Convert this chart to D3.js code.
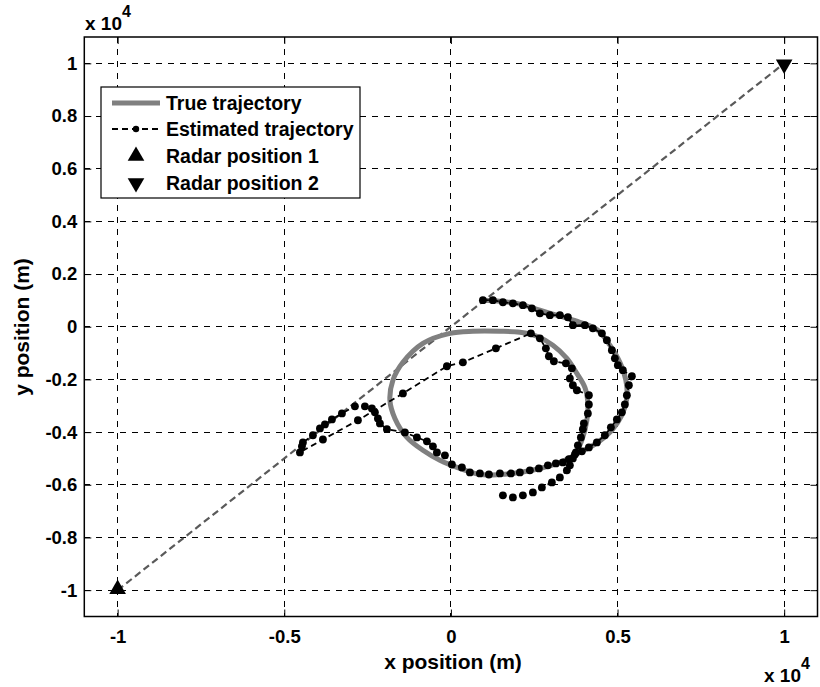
<!DOCTYPE html>
<html>
<head>
<meta charset="utf-8">
<script src="https://cdn.jsdelivr.net/npm/d3@7"></script>
<style>
  html, body { margin: 0; padding: 0; background: #fff; }
  svg { display: block; }
  text { font-family: "Liberation Sans", Arial, Helvetica, sans-serif; font-weight: bold; fill: #000; }
</style>
</head>
<body>
<svg id="chart" width="820" height="687"></svg>
<script>
// ---- data (metres) ----
const radar1 = [-10000, -10000];
const radar2 = [10000, 10000];

const xTicks = [-10000, -5000, 0, 5000, 10000];
const xTickLabels = ["-1", "-0.5", "0", "0.5", "1"];
const yTicks = [-10000, -8000, -6000, -4000, -2000, 0, 2000, 4000, 6000, 8000, 10000];
const yTickLabels = ["-1", "-0.8", "-0.6", "-0.4", "-0.2", "0", "0.2", "0.4", "0.6", "0.8", "1"];

// true target path (spiralling turn)
const trueX = [990, 1470, 2070, 2670, 3270, 3870, 4410, 4770, 5070, 5250, 5280, 5130, 4830, 4410, 3870, 3270,
  2670, 2070, 1470, 870, 270, -330, -840, -1320, -1680, -1830, -1740, -1440, -840, -30, 660, 1470, 2070, 2580,
  3060, 3480, 3780, 4020, 4110, 4080, 3930, 3720];
const trueY = [1010, 970, 860, 630, 400, 170, -130, -700, -1350, -2030, -2720, -3360, -3930, -4390, -4770, -5150,
  -5380, -5530, -5610, -5610, -5380, -5070, -4690, -4200, -3480, -2790, -2030, -1350, -630, -250, -170, -170, -210, -360,
  -700, -1200, -1770, -2300, -2910, -3550, -4310, -4880];

// filter estimate
const estX = [960, 1260, 1560, 1860, 2160, 2430, 2670, 2970, 3270, 3510, 3660, 4020, 4260, 4530, 4680, 4830,
  4920, 5010, 5160, 5430, 5340, 5280, 5220, 5130, 4980, 4800, 4620, 4380, 4140, 3930, 3720, 3540, 3360, 3150,
  2910, 2640, 2370, 2070, 1800, 1470, 1140, 870, 570, 330, 30, -180, -420, -540, -720, -1020, -1380, -1920,
  -2130, -2190, -2280, -2370, -2580, -2880, -3270, -3570, -3780, -3930, -4140, -4440, -4470, -4530,
  -3840, -2790, -1440, -120, 360, 1350, 2400, 2670, 2850, 2940, 3090, 3450, 3630, 3570, 3660, 3780, 4140,
  4140, 4110, 3990, 3960, 3900, 3810, 3750, 3660, 3570, 3480, 3270, 3030, 2730, 2460, 2160, 1860, 1560];
const estY = [1010, 1010, 930, 890, 820, 700, 510, 440, 440, 360, 60, 60, -60, -250, -510, -890,
  -1200, -1460, -1650, -1880, -2220, -2600, -2950, -3250, -3520, -3820, -4120, -4390, -4580, -4730, -4850, -5030,
  -5150, -5190, -5260, -5380, -5450, -5530, -5570, -5570, -5610, -5570, -5530, -5340, -5230, -4880, -4770,
  -4540, -4350, -4200, -4010, -3890, -3670, -3480, -3250, -3100, -3020, -3020, -3290, -3520, -3710, -3860,
  -4120, -4390, -4540, -4770,
  -4280, -3550, -2530, -1500, -1350, -820, -250, -440, -820, -1120, -1310, -1390, -1580, -1960, -2220, -2410,
  -2600, -2950, -3290, -3670, -3890, -4200, -4500, -4770, -5000, -5260, -5450, -5720, -5910, -6100, -6290,
  -6400, -6480, -6400];

const legendLabels = ["True trajectory", "Estimated trajectory", "Radar position 1", "Radar position 2"];

// ---- layout ----
const svg = d3.select("#chart");
const plot = { left: 84.3, right: 817.5, top: 37, bottom: 616.5 };

const x = d3.scaleLinear().domain([-11000, 11000]).range([plot.left, plot.right]);
const y = d3.scaleLinear().domain([-11000, 11000]).range([plot.bottom, plot.top]);

// grid
const grid = svg.append("g");
grid.selectAll("line.gx").data(xTicks).join("line")
  .attr("x1", d => x(d)).attr("x2", d => x(d))
  .attr("y1", plot.top).attr("y2", plot.bottom)
  .attr("stroke", "#000").attr("stroke-width", 1).attr("stroke-dasharray", "6,6")
  .attr("shape-rendering", "crispEdges");
grid.selectAll("line.gy").data(yTicks).join("line")
  .attr("y1", d => y(d)).attr("y2", d => y(d))
  .attr("x1", plot.left).attr("x2", plot.right)
  .attr("stroke", "#000").attr("stroke-width", 1).attr("stroke-dasharray", "6,6")
  .attr("shape-rendering", "crispEdges");

// axes with inward ticks on all four sides
const tickLen = 7;
const fmtX = (d, i) => xTickLabels[i];
const fmtY = (d, i) => yTickLabels[i];
const axB = svg.append("g").attr("transform", `translate(0,${plot.bottom})`)
  .call(d3.axisBottom(x).tickValues(xTicks).tickFormat(fmtX).tickSizeInner(-tickLen).tickSizeOuter(0).tickPadding(13));
const axT = svg.append("g").attr("transform", `translate(0,${plot.top})`)
  .call(d3.axisTop(x).tickValues(xTicks).tickFormat("").tickSizeInner(-tickLen).tickSizeOuter(0));
const axL = svg.append("g").attr("transform", `translate(${plot.left},0)`)
  .call(d3.axisLeft(y).tickValues(yTicks).tickFormat(fmtY).tickSizeInner(-tickLen).tickSizeOuter(0).tickPadding(7));
const axR = svg.append("g").attr("transform", `translate(${plot.right},0)`)
  .call(d3.axisRight(y).tickValues(yTicks).tickFormat("").tickSizeInner(-tickLen).tickSizeOuter(0));
[axB, axT, axL, axR].forEach(a => {
  a.select(".domain").remove();
  a.selectAll(".tick line").attr("stroke", "#000").attr("stroke-width", 1);
  a.selectAll("text").style("font-size", "18.5px").style("font-weight", "bold")
    .style("font-family", "'Liberation Sans', Arial, sans-serif").attr("fill", "#000");
});

// frame
svg.append("rect")
  .attr("x", plot.left).attr("y", plot.top)
  .attr("width", plot.right - plot.left).attr("height", plot.bottom - plot.top)
  .attr("fill", "none").attr("stroke", "#000").attr("stroke-width", 1.5);

// clip for data
svg.append("clipPath").attr("id", "clip").append("rect")
  .attr("x", plot.left).attr("y", plot.top)
  .attr("width", plot.right - plot.left).attr("height", plot.bottom - plot.top);
const data = svg.append("g").attr("clip-path", "url(#clip)");

// baseline between the two radars
data.append("line")
  .attr("x1", x(radar1[0])).attr("y1", y(radar1[1]))
  .attr("x2", x(radar2[0])).attr("y2", y(radar2[1]))
  .attr("stroke", "#5a5a5a").attr("stroke-width", 2.2).attr("stroke-dasharray", "7,4");

// true trajectory
const truePts = trueX.map((v, i) => [v, trueY[i]]);
data.append("path")
  .attr("d", d3.line().x(d => x(d[0])).y(d => y(d[1])).curve(d3.curveCatmullRom)(truePts))
  .attr("fill", "none").attr("stroke", "#808080").attr("stroke-width", 5)
  .attr("stroke-linejoin", "round").attr("stroke-linecap", "round");

// estimated trajectory
const estPts = estX.map((v, i) => [v, estY[i]]);
data.append("path")
  .attr("d", d3.line().x(d => x(d[0])).y(d => y(d[1]))(estPts))
  .attr("fill", "none").attr("stroke", "#000").attr("stroke-width", 1.8)
  .attr("stroke-dasharray", "6,4");
data.selectAll("circle.est").data(estPts).join("circle")
  .attr("cx", d => x(d[0])).attr("cy", d => y(d[1])).attr("r", 3.9).attr("fill", "#000");

// radar markers
const triUp = d3.symbol().type(d3.symbolTriangle).size(120);
data.append("path").attr("d", triUp())
  .attr("transform", `translate(${x(radar1[0])},${y(radar1[1]) - 1})`).attr("fill", "#000");
data.append("path").attr("d", triUp())
  .attr("transform", `translate(${x(radar2[0])},${y(radar2[1]) + 1}) rotate(180)`).attr("fill", "#000");

// exponent labels
function expLabel(px, py) {
  const t = svg.append("text").attr("x", px).attr("y", py).style("font-size", "19px");
  t.append("tspan").text("x 10");
  t.append("tspan").attr("dy", -13).style("font-size", "16px").text("4");
}
expLabel(85, 30);
expLabel(764, 682);

// axis titles
svg.append("text").attr("x", 453).attr("y", 669)
  .attr("text-anchor", "middle").style("font-size", "21px").text("x position (m)");
svg.append("text").attr("transform", `translate(29,327) rotate(-90)`)
  .attr("text-anchor", "middle").style("font-size", "21px").text("y position (m)");

// legend
const lg = svg.append("g");
lg.append("rect").attr("x", 101).attr("y", 87).attr("width", 259).attr("height", 111)
  .attr("fill", "#fff").attr("stroke", "#000").attr("stroke-width", 1.2);
const rowY = [103, 129, 156, 183];
const sx0 = 112, sx1 = 160, tx = 166;
lg.append("line").attr("x1", sx0).attr("x2", sx1).attr("y1", rowY[0]).attr("y2", rowY[0])
  .attr("stroke", "#808080").attr("stroke-width", 5);
lg.append("line").attr("x1", sx0).attr("x2", sx1).attr("y1", rowY[1]).attr("y2", rowY[1])
  .attr("stroke", "#000").attr("stroke-width", 1.8).attr("stroke-dasharray", "6,4");
lg.append("circle").attr("cx", (sx0 + sx1) / 2).attr("cy", rowY[1]).attr("r", 3.2).attr("fill", "#000");
lg.append("path").attr("d", triUp()).attr("transform", `translate(${(sx0 + sx1) / 2},${rowY[2]})`).attr("fill", "#000");
lg.append("path").attr("d", triUp()).attr("transform", `translate(${(sx0 + sx1) / 2},${rowY[3]}) rotate(180)`).attr("fill", "#000");
lg.selectAll("text.lab").data(legendLabels).join("text")
  .attr("x", tx).attr("y", (d, i) => rowY[i]).attr("dy", "0.36em")
  .style("font-size", "19.5px").text(d => d);
</script>
</body>
</html>
